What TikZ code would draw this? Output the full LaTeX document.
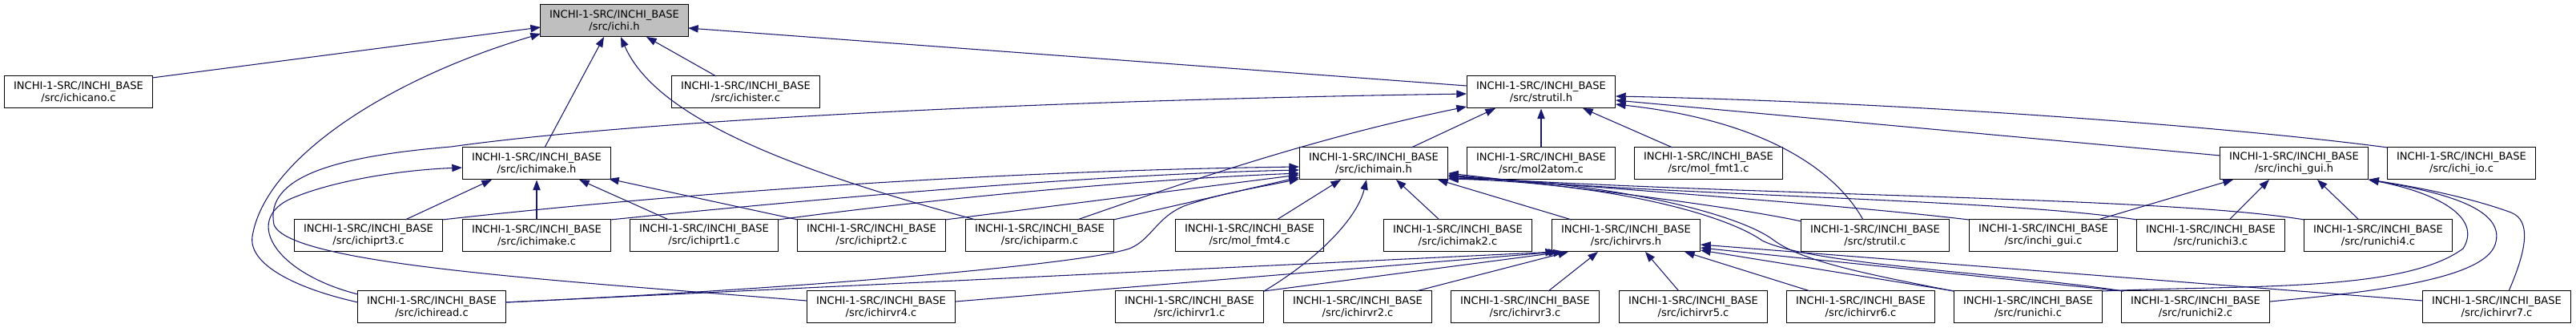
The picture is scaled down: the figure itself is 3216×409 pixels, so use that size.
\documentclass[tikz,border=0pt]{standalone}
\usepackage{fontspec}
\setmainfont{DejaVu Sans}
\usetikzlibrary{arrows.meta,calc}
\definecolor{edgeblue}{HTML}{191970}
\definecolor{headgray}{HTML}{BFBFBF}
\begin{document}
\begin{tikzpicture}[x=0.75pt,y=-0.75pt,
 filebox/.style={draw=black,line width=0.75pt,minimum width=138.75pt,minimum height=30pt,inner sep=0pt,align=center,font=\fontsize{9.8}{11.25}\selectfont,fill=white},
 dep/.style={draw=edgeblue,line width=0.8pt,-{Triangle[length=9.5pt,width=7pt]}}]
\useasboundingbox (0,0) rectangle (3216,409);
% row 0
\node[filebox,fill=headgray] (ichih) at (767,26) {INCHI-1-SRC/INCHI\_BASE\\/src/ichi.h};
% row 1
\node[filebox] (ichicano) at (98,115) {INCHI-1-SRC/INCHI\_BASE\\/src/ichicano.c};
\node[filebox] (ichister) at (931,115) {INCHI-1-SRC/INCHI\_BASE\\/src/ichister.c};
\node[filebox] (strutilh) at (1924,115) {INCHI-1-SRC/INCHI\_BASE\\/src/strutil.h};
% row 2
\node[filebox] (ichimakeh) at (670,204) {INCHI-1-SRC/INCHI\_BASE\\/src/ichimake.h};
\node[filebox] (ichimainh) at (1715,204) {INCHI-1-SRC/INCHI\_BASE\\/src/ichimain.h};
\node[filebox] (mol2atom) at (1924,204) {INCHI-1-SRC/INCHI\_BASE\\/src/mol2atom.c};
\node[filebox] (molfmt1) at (2133,204) {INCHI-1-SRC/INCHI\_BASE\\/src/mol\_fmt1.c};
\node[filebox] (inchiguih) at (2864,204) {INCHI-1-SRC/INCHI\_BASE\\/src/inchi\_gui.h};
\node[filebox] (ichiio) at (3073,204) {INCHI-1-SRC/INCHI\_BASE\\/src/ichi\_io.c};
% row 3
\node[filebox] (ichiprt3) at (460,294) {INCHI-1-SRC/INCHI\_BASE\\/src/ichiprt3.c};
\node[filebox] (ichimakec) at (670,294) {INCHI-1-SRC/INCHI\_BASE\\/src/ichimake.c};
\node[filebox] (ichiprt1) at (879,294) {INCHI-1-SRC/INCHI\_BASE\\/src/ichiprt1.c};
\node[filebox] (ichiprt2) at (1088,294) {INCHI-1-SRC/INCHI\_BASE\\/src/ichiprt2.c};
\node[filebox] (ichiparm) at (1298,294) {INCHI-1-SRC/INCHI\_BASE\\/src/ichiparm.c};
\node[filebox] (molfmt4) at (1560,294) {INCHI-1-SRC/INCHI\_BASE\\/src/mol\_fmt4.c};
\node[filebox] (ichimak2) at (1820,294) {INCHI-1-SRC/INCHI\_BASE\\/src/ichimak2.c};
\node[filebox] (ichirvrsh) at (2030,294) {INCHI-1-SRC/INCHI\_BASE\\/src/ichirvrs.h};
\node[filebox] (strutilc) at (2341,294) {INCHI-1-SRC/INCHI\_BASE\\/src/strutil.c};
\node[filebox] (inchiguic) at (2551,294) {INCHI-1-SRC/INCHI\_BASE\\/src/inchi\_gui.c};
\node[filebox] (runichi3) at (2760,294) {INCHI-1-SRC/INCHI\_BASE\\/src/runichi3.c};
\node[filebox] (runichi4) at (2969,294) {INCHI-1-SRC/INCHI\_BASE\\/src/runichi4.c};
% row 4
\node[filebox] (ichiread) at (539,383) {INCHI-1-SRC/INCHI\_BASE\\/src/ichiread.c};
\node[filebox] (ichirvr4) at (1100,383) {INCHI-1-SRC/INCHI\_BASE\\/src/ichirvr4.c};
\node[filebox] (ichirvr1) at (1485,383) {INCHI-1-SRC/INCHI\_BASE\\/src/ichirvr1.c};
\node[filebox] (ichirvr2) at (1695,383) {INCHI-1-SRC/INCHI\_BASE\\/src/ichirvr2.c};
\node[filebox] (ichirvr3) at (1904,383) {INCHI-1-SRC/INCHI\_BASE\\/src/ichirvr3.c};
\node[filebox] (ichirvr5) at (2114,383) {INCHI-1-SRC/INCHI\_BASE\\/src/ichirvr5.c};
\node[filebox] (ichirvr6) at (2323,383) {INCHI-1-SRC/INCHI\_BASE\\/src/ichirvr6.c};
\node[filebox] (runichi) at (2532,383) {INCHI-1-SRC/INCHI\_BASE\\/src/runichi.c};
\node[filebox] (runichi2) at (2741,383) {INCHI-1-SRC/INCHI\_BASE\\/src/runichi2.c};
\node[filebox] (ichirvr7) at (3117,383) {INCHI-1-SRC/INCHI\_BASE\\/src/ichirvr7.c};

% ---- into ichi.h
\draw[dep] ($(ichicano)+(92,-18)$) -- ($(ichih)+(-92,8)$);
\draw[dep] ($(ichister)+(-37,-20)$) -- ($(ichih)+(40,20)$);
\draw[dep] ($(strutilh)+(-93,-8)$) -- ($(ichih)+(92,9)$);
\draw[dep] ($(ichimakeh)+(10,-20)$) -- ($(ichih)+(-13,20)$);
\draw[dep] ($(ichiread)+(-92,-6)$) .. controls (370,360) and (310,330) .. (315,295) .. controls (330,200) and (480,100) .. ($(ichih)+(-92,16)$);
\draw[dep] ($(ichiparm)+(-80,-20)$) .. controls (1000,215) and (820,150) .. ($(ichih)+(8,20)$);

% ---- into strutil.h
\draw[dep] ($(ichimainh)+(47,-20)$) -- ($(strutilh)+(-57,20)$);
\draw[dep] (mol2atom.north) -- (strutilh.south);
\draw[dep] ($(molfmt1)+(-45,-20)$) -- ($(strutilh)+(52,20)$);
\draw[dep] ($(inchiguih)+(-92,-10)$) -- ($(strutilh)+(93,10)$);
\draw[dep] ($(ichiio)+(-92,-20)$) .. controls (2800,160) and (2400,128) .. ($(strutilh)+(93,5)$);
\draw[dep] ($(strutilc)+(-15,-20)$) .. controls (2290,210) and (2200,150) .. ($(strutilh)+(93,15)$);
\draw[dep] ($(ichiparm)+(47,-20)$) .. controls (1500,220) and (1650,170) .. ($(strutilh)+(-93,18)$);
\draw[dep] ($(ichirvr4)+(-93,-8)$) .. controls (700,350) and (360,330) .. (342,280) .. controls (330,220) and (420,195) .. (563,183) .. controls (800,150) and (1300,125) .. ($(strutilh)+(-93,2)$);

% ---- into ichimake.h
\draw[dep] ($(ichiprt3)+(46,-20)$) -- ($(ichimakeh)+(-56,20)$);
\draw[dep] (ichimakec.north) -- (ichimakeh.south);
\draw[dep] ($(ichiprt1)+(-44,-20)$) -- ($(ichimakeh)+(53,20)$);
\draw[dep] ($(ichiprt2)+(-92,-20)$) -- ($(ichimakeh)+(90,19)$);
\draw[dep] ($(ichiread)+(-92,-16)$) .. controls (340,340) and (300,270) .. (370,245) .. controls (420,225) and (500,212) .. ($(ichimakeh)+(-93,5)$);

% ---- into ichimain.h (left side)
\draw[dep] ($(ichiprt3)+(92,-20)$) .. controls (900,235) and (1300,212) .. ($(ichimainh)+(-93,4)$);
\draw[dep] ($(ichimakec)+(92,-20)$) .. controls (1000,250) and (1350,218) .. ($(ichimainh)+(-93,8)$);
\draw[dep] ($(ichiprt1)+(92,-20)$) .. controls (1150,250) and (1400,225) .. ($(ichimainh)+(-93,12)$);
\draw[dep] ($(ichiprt2)+(92,-20)$) -- ($(ichimainh)+(-93,14)$);
\draw[dep] ($(ichiparm)+(92,-20)$) -- ($(ichimainh)+(-93,17)$);
\draw[dep] ($(ichiread)+(92,-6)$) .. controls (1000,360) and (1350,330) .. (1410,310) .. controls (1440,298) and (1445,265) .. (1490,253) .. controls (1530,240) and (1580,232) .. ($(ichimainh)+(-93,19)$);
% ---- into ichimain.h (bottom)
\draw[dep] ($(molfmt4)+(34,-20)$) -- ($(ichimainh)+(-41,20)$);
\draw[dep] ($(ichirvr1)+(93,-20)$) .. controls (1650,320) and (1695,270) .. ($(ichimainh)+(-9,20)$);
\draw[dep] ($(ichimak2)+(-23,-20)$) -- ($(ichimainh)+(28,20)$);
\draw[dep] ($(ichirvrsh)+(-68,-20)$) -- ($(ichimainh)+(80,20)$);
% ---- into ichimain.h (right side)
\draw[dep] ($(strutilc)+(-92,-18)$) .. controls (2150,255) and (1950,232) .. ($(ichimainh)+(93,12)$);
\draw[dep] ($(inchiguic)+(-93,-20)$) .. controls (2300,255) and (2000,235) .. ($(ichimainh)+(93,14)$);
\draw[dep] ($(runichi3)+(-92,-20)$) .. controls (2500,248) and (2100,245) .. ($(ichimainh)+(93,15)$);
\draw[dep] ($(runichi4)+(-92,-20)$) .. controls (2700,245) and (2200,245) .. ($(ichimainh)+(93,16)$);
\draw[dep] ($(runichi)+(-93,-20)$) .. controls (2320,340) and (2250,325) .. (2215,300) .. controls (2170,265) and (2000,225) .. ($(ichimainh)+(93,18)$);
\draw[dep] ($(runichi2)+(-90,-20)$) .. controls (2500,340) and (2260,330) .. (2200,300) .. controls (2150,265) and (2000,228) .. ($(ichimainh)+(93,19)$);

% ---- into ichirvrs.h
\draw[dep] ($(ichiread)+(92,-6)$) -- ($(ichirvrsh)+(-88,20)$);
\draw[dep] ($(ichirvr4)+(93,-7)$) -- ($(ichirvrsh)+(-84,20)$);
\draw[dep] ($(ichirvr1)+(93,-20)$) -- ($(ichirvrsh)+(-78,20)$);
\draw[dep] ($(ichirvr2)+(73,-20)$) -- ($(ichirvrsh)+(-72,20)$);
\draw[dep] ($(ichirvr3)+(29,-20)$) -- ($(ichirvrsh)+(-35,20)$);
\draw[dep] ($(ichirvr5)+(-18,-20)$) -- ($(ichirvrsh)+(24,20)$);
\draw[dep] ($(ichirvr6)+(-63,-20)$) -- ($(ichirvrsh)+(73,20)$);
\draw[dep] ($(runichi)+(-92,-20)$) -- ($(ichirvrsh)+(93,18)$);
\draw[dep] ($(runichi2)+(-90,-20)$) -- ($(ichirvrsh)+(93,15)$);
\draw[dep] ($(ichirvr7)+(-92,-8)$) -- ($(ichirvrsh)+(93,11)$);

% ---- into inchi_gui.h
\draw[dep] ($(inchiguic)+(68,-20)$) -- ($(inchiguih)+(-76,20)$);
\draw[dep] ($(runichi3)+(23,-20)$) -- ($(inchiguih)+(-31,20)$);
\draw[dep] ($(runichi4)+(-24,-20)$) -- ($(inchiguih)+(29,20)$);
\draw[dep] ($(runichi)+(93,-20)$) .. controls (2800,355) and (3000,365) .. (3075,310) .. controls (3100,270) and (3040,240) .. ($(inchiguih)+(93,20)$);
\draw[dep] ($(runichi2)+(93,-7)$) .. controls (2950,365) and (3100,350) .. (3115,305) .. controls (3130,260) and (3050,240) .. ($(inchiguih)+(93,20)$);
\draw[dep] ($(ichirvr7)+(15,-20)$) .. controls (3155,310) and (3160,275) .. (3135,265) .. controls (3080,245) and (3010,232) .. ($(inchiguih)+(93,20)$);
\end{tikzpicture}
\end{document}
